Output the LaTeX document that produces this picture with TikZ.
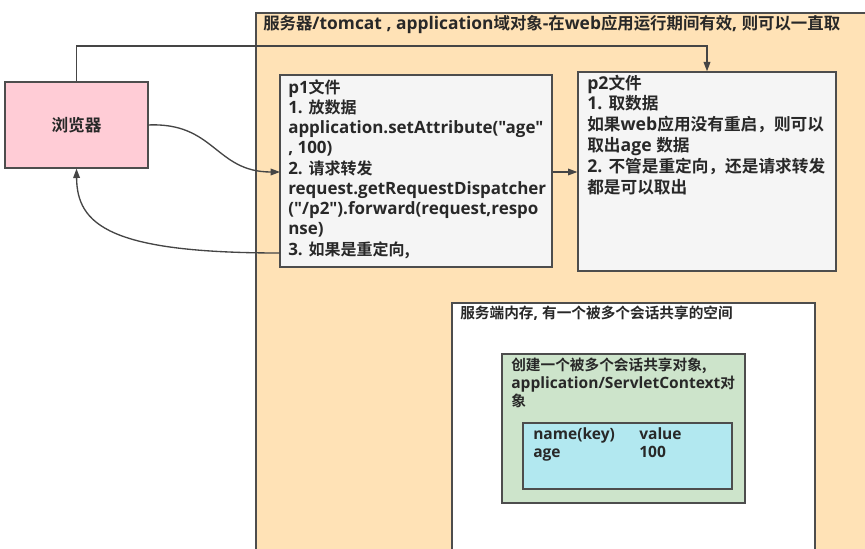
\documentclass[tikz,border=0pt]{standalone}
\usepackage{fontspec}
\setmainfont{Open Sans}[Scale=1.06,Ligatures=TeXOff]
\newfontfamily\cjk{Noto Sans CJK SC}[BoldFont={Noto Sans CJK SC Bold}]
\usetikzlibrary{arrows.meta,fit}
\newcommand\zh[1]{{\cjk\bfseries #1}}
\definecolor{orangebg}{RGB}{255,226,182}
\definecolor{pinkbg}{RGB}{255,204,214}
\definecolor{graybg}{RGB}{245,245,245}
\definecolor{greenbg}{RGB}{205,228,203}
\definecolor{cyanbg}{RGB}{178,232,240}
\definecolor{edge}{RGB}{77,77,77}
\definecolor{txt}{RGB}{40,40,40}
\tikzset{
  box/.style={draw=edge, line width=1pt, inner sep=0pt},
  lbl/.style={inner sep=0pt, text=txt, font=\fontsize{12}{15.2}\selectfont\bfseries, align=left},
  slbl/.style={lbl, font=\fontsize{11}{13.3}\selectfont\bfseries},
  conn/.style={draw=edge!90!black, line width=1pt, -{Triangle[length=7pt,width=5pt]}},
}
\begin{document}
\begin{tikzpicture}[x=0.75pt,y=-0.75pt]
\useasboundingbox (0,0) rectangle (865,549);
\clip (0,0) rectangle (865,549);
% server area
\node[box, fill=orangebg, fit={(256,13) (880,570)}] (server) {};
\node[lbl, anchor=base west, font=\fontsize{12.3}{15}\selectfont\bfseries] (title) at (263,29.5)
  {\zh{服务器}/tomcat , application\zh{域对象}-\zh{在}web\zh{应用运行期间有效}, \zh{则可以一直取}};
% browser
\node[box, fill=pinkbg, fit={(5,82) (148,168)}] (browser) {};
\node[lbl, font=\fontsize{12.5}{15}\selectfont\bfseries] (btext) at (browser.center) {\zh{浏览器}};
% p1
\node[box, fill=graybg, fit={(280,75) (552,267)}] (p1) {};
\node[lbl, anchor=north west] (p1text) at (288,79)
  {p1\zh{文件}\\
   1. \zh{放数据}\\
   application.setAttribute("age"\\
   , 100)\\
   2. \zh{请求转发}\\
   request.getRequestDispatcher\\
   ("/p2").forward(request,respo\\
   nse)\\
   3. \zh{如果是重定向,}};
% p2
\node[box, fill=graybg, fit={(578,72) (836,271)}] (p2) {};
\node[lbl, anchor=north west, font=\fontsize{12.5}{15.6}\selectfont\bfseries] (p2text) at (587,74.5)
  {p2\zh{文件}\\
   1. \zh{取数据}\\
   \zh{如果}web\zh{应用没有重启，则可以}\\
   \zh{取出}age \zh{数据}\\
   2. \zh{不管是重定向，还是请求转发}\\
   \zh{都是可以取出}};
% memory
\node[box, fill=white, fit={(452,303) (815,570)}] (mem) {};
\node[slbl, anchor=west] (memtext) at (460,313) {\zh{服务端内存}, \zh{有一个被多个会话共享的空间}};
\node[box, fill=greenbg, fit={(502,354) (745,503)}] (ctx) {};
\node[slbl, anchor=north west] (ctxtext) at (511,358)
  {\zh{创建一个被多个会话共享对象,}\\
   application/ServletContext\zh{对}\\
   \zh{象}};
\node[box, fill=cyanbg, fit={(523,423) (732,489)}] (tbl) {};
\node[slbl, anchor=base west] (k1) at (533,439) {name(key)};
\node[slbl, anchor=base west] (v1) at (639,439) {value};
\node[slbl, anchor=base west] (k2) at (533,457) {age};
\node[slbl, anchor=base west] (v2) at (639,457) {100};
% connectors
\coordinate (bend) at (707,46);
\coordinate (bin) at (280,172);
\coordinate (bout) at (280,253);
\coordinate (bright) at (148,125);
\draw[conn] (browser.north) |- (bend) -- (bend |- p2.north);
\draw[conn] (bright) .. controls (215,122) and (215,172) .. (bin);
\draw[conn] (bout) .. controls (110,253) and (77,225) .. (browser.south);
\draw[conn] (p1.east |- bin) -- (p2.west |- bin);
\end{tikzpicture}
\end{document}
